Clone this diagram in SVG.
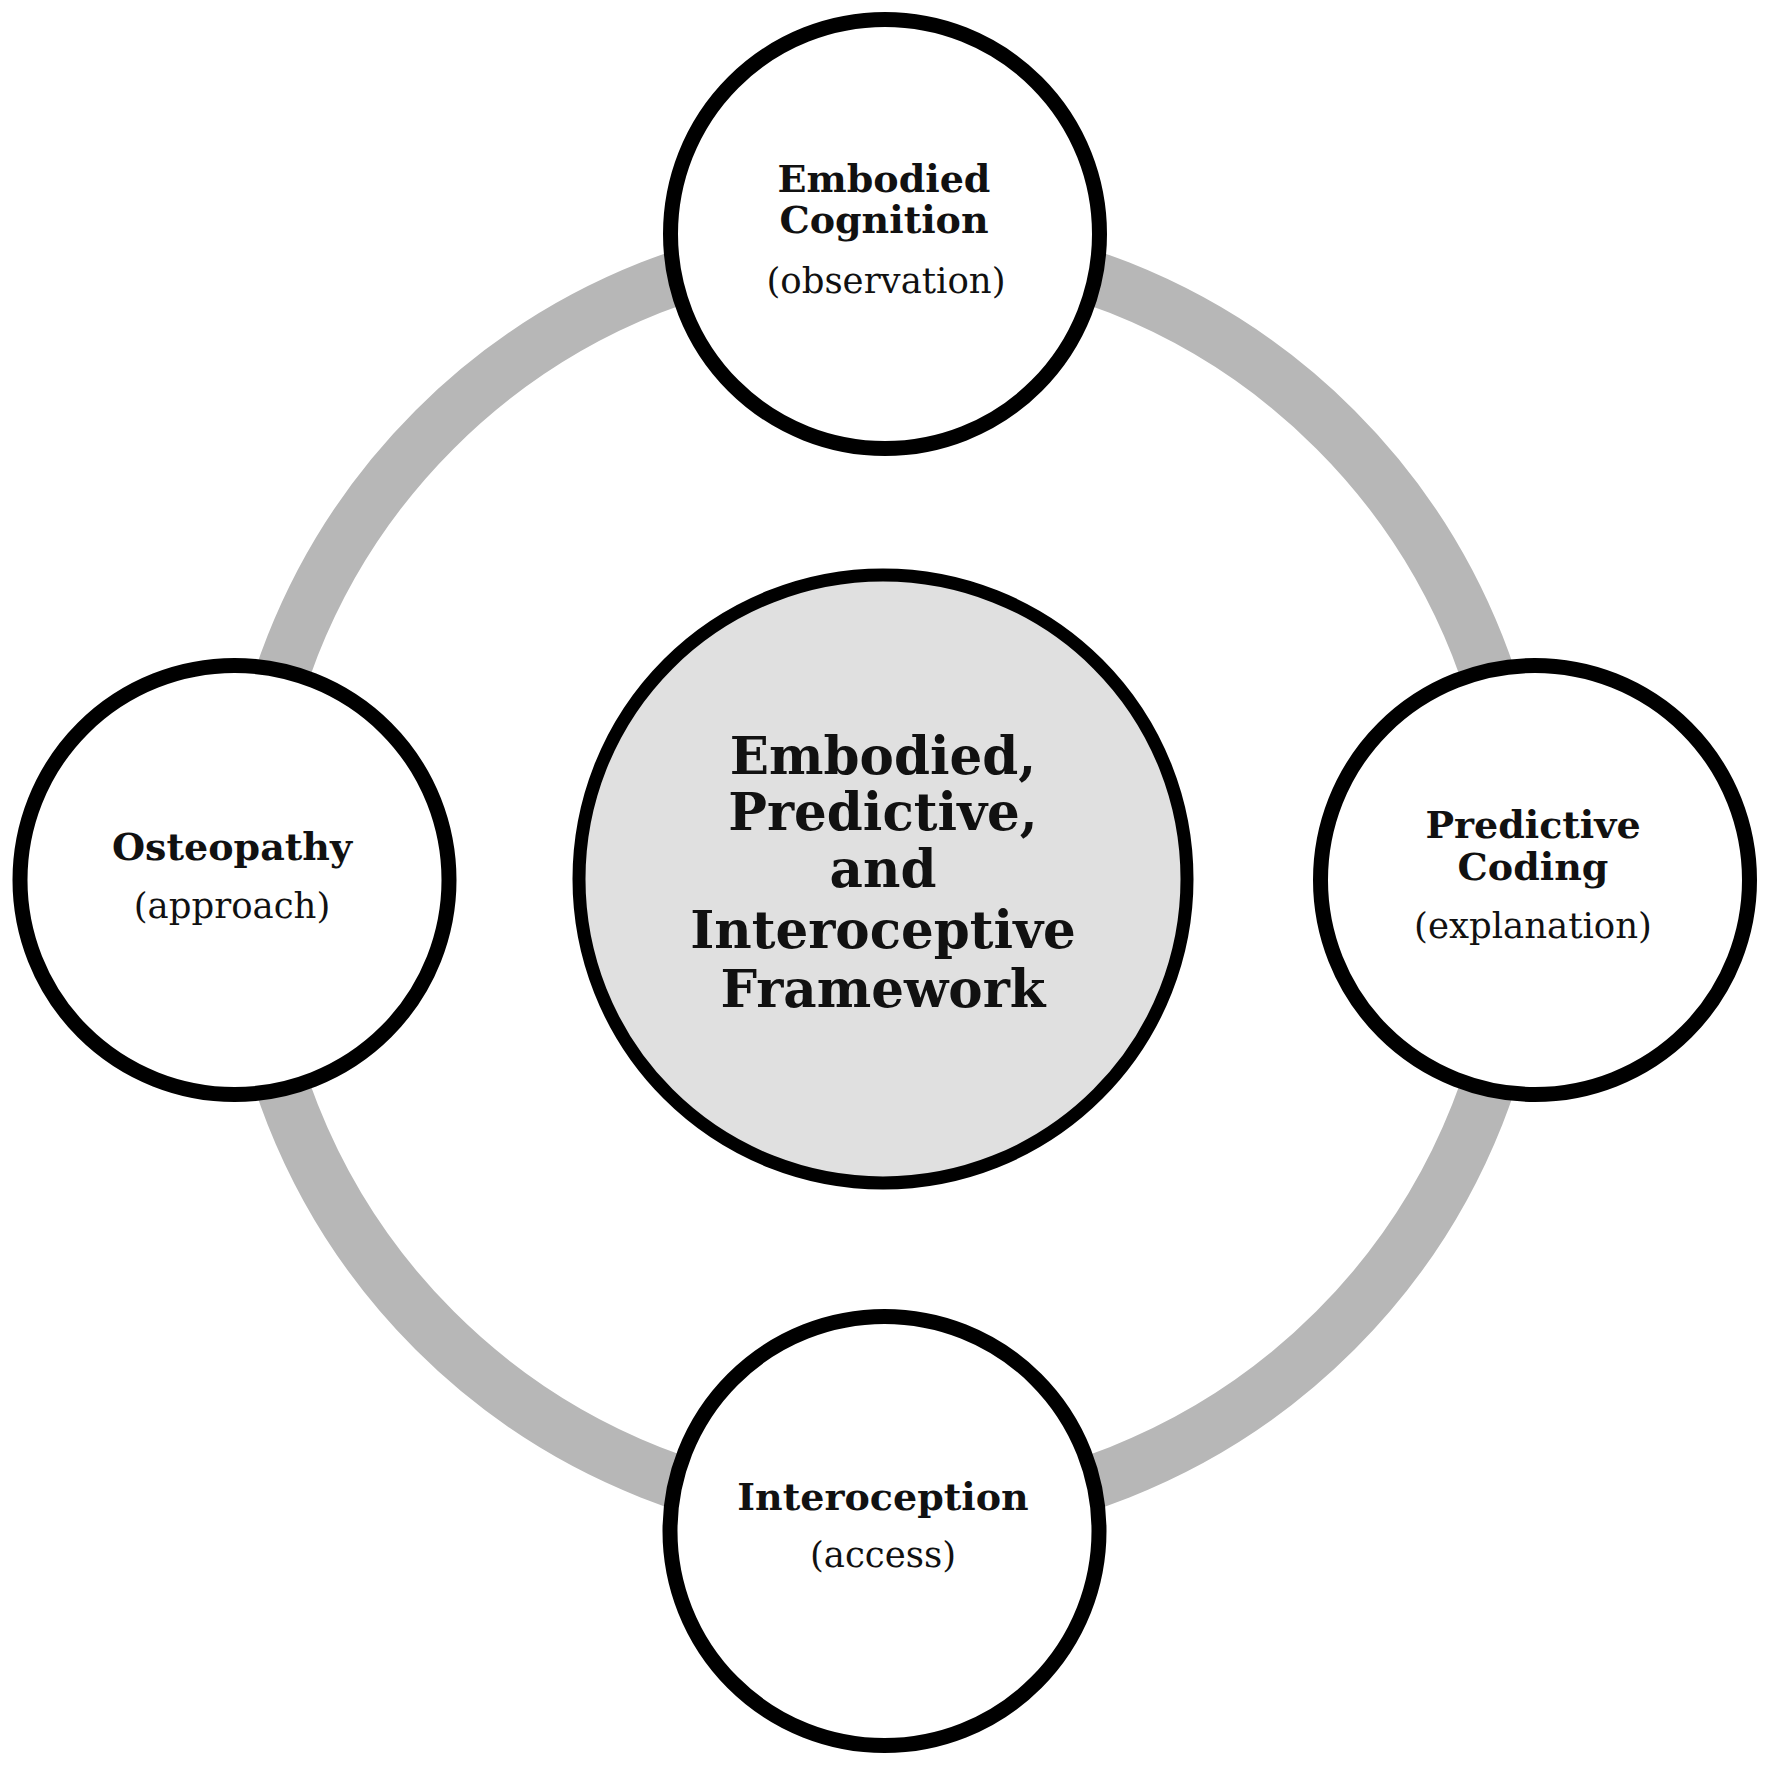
<svg xmlns="http://www.w3.org/2000/svg" width="1772" height="1772" viewBox="0 0 1772 1772">
<style>
.node{fill:#ffffff;stroke:#000000;stroke-width:15}
.hub{fill:#e0e0e0;stroke:#000000;stroke-width:13}
.ring{fill:none;stroke:#b7b7b7;stroke-width:54}
.b{font-family:"DejaVu Serif","Liberation Serif",serif;font-weight:bold;font-size:38px;fill:#111;text-anchor:middle}
.r{font-family:"DejaVu Serif","Liberation Serif",serif;font-size:35.5px;fill:#111;text-anchor:middle}
.hb{font-family:"DejaVu Serif","Liberation Serif",serif;font-weight:bold;font-size:51.5px;fill:#111;text-anchor:middle}
</style>
<rect width="1772" height="1772" fill="#ffffff"/>
<g id="connectors">
<circle class="ring" cx="885" cy="880" r="637"/>
</g>
<g id="hub">
<circle class="hub" cx="883" cy="879" r="304"/>
<text class="hb" x="883" y="774">Embodied,</text>
<text class="hb" x="883" y="830">Predictive,</text>
<text class="hb" x="883" y="887">and</text>
<text class="hb" x="883" y="948">Interoceptive</text>
<text class="hb" x="883" y="1007">Framework</text>
</g>
<g id="embodied-cognition">
<circle class="node" cx="885" cy="234" r="214.5"/>
<text class="b" x="884" y="192">Embodied</text>
<text class="b" x="884" y="233">Cognition</text>
<text class="r" x="886" y="293">(observation)</text>
</g>
<g id="osteopathy">
<circle class="node" cx="234.5" cy="880" r="214.5"/>
<text class="b" x="232" y="860">Osteopathy</text>
<text class="r" x="232" y="918">(approach)</text>
</g>
<g id="predictive-coding">
<circle class="node" cx="1535" cy="880" r="214.5"/>
<text class="b" x="1533" y="838">Predictive</text>
<text class="b" x="1533" y="880">Coding</text>
<text class="r" x="1533" y="938">(explanation)</text>
</g>
<g id="interoception">
<circle class="node" cx="884.5" cy="1531" r="214.5"/>
<text class="b" x="883" y="1510">Interoception</text>
<text class="r" x="883" y="1567">(access)</text>
</g>
</svg>
